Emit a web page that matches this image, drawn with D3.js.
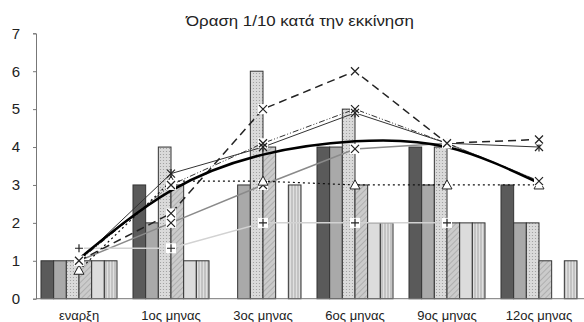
<!DOCTYPE html>
<html>
<head>
<meta charset="utf-8">
<script src="https://cdn.jsdelivr.net/npm/d3@7"></script>
<style>
  body { margin: 0; background: white; }
  text { font-family: "Liberation Sans", Arial, sans-serif; }
</style>
</head>
<body>
<div id="container"></div>
<script>
// categories and values
let categories = ["εναρξη", "1ος μηνας", "3ος μηνας", "6ος μηνας", "9ος μηνας", "12ος μηνας"];
let yTicks = [0, 1, 2, 3, 4, 5, 6, 7];

// bar series (six per month)
let barDark    = [1, 3, 0, 4, 4, 3];
let barMedium  = [1, 2, 3, 4, 3, 2];
let barDotted  = [1, 4, 6, 5, 4, 2];
let barHatched = [1, 3, 4, 3, 2, 1];
let barLight   = [1, 1, 0, 2, 2, 0];
let barStriped = [1, 1, 3, 2, 2, 1];

// line series
let lineTrend    = [1.05, 2.85, 3.8, 4.15, 4.0, 3.05];
let lineDashed   = [1.0, 2.25, 5.0, 6.0, 4.1, 4.2];
let lineStar     = [1.0, 3.3, 4.0, 4.9, 4.1, 4.0];
let lineDashDot  = [1.0, 3.0, 4.1, 5.0, 4.1, 3.1];
let lineDotted   = [0.75, 3.1, 3.1, 3.0, 3.0, 3.0];
let lineGray     = [1.0, 2.0, 3.0, 3.95, 4.1, 3.1];
let linePale     = [1.33, 1.33, 2.0, 2.0, 2.0, null];

let w = 584;
let h = 322;

let viz = d3.select("#container")
  .append("svg")
    .attr("width", w)
    .attr("height", h)
;

// fill patterns for the bars
let defs = viz.append("defs");

let dots = defs.append("pattern")
  .attr("id", "dots")
  .attr("width", 3)
  .attr("height", 3)
  .attr("patternUnits", "userSpaceOnUse")
;
dots.append("rect").attr("width", 3).attr("height", 3).attr("fill", "#dadada");
dots.append("circle").attr("cx", 1.5).attr("cy", 1.5).attr("r", 0.6).attr("fill", "#9a9a9a");

let hatch = defs.append("pattern")
  .attr("id", "hatch")
  .attr("width", 4)
  .attr("height", 4)
  .attr("patternUnits", "userSpaceOnUse")
  .attr("patternTransform", "rotate(45)")
;
hatch.append("rect").attr("width", 4).attr("height", 4).attr("fill", "#cbcbcb");
hatch.append("line").attr("x1", 0).attr("y1", 0).attr("x2", 0).attr("y2", 4)
  .attr("stroke", "#9c9c9c").attr("stroke-width", 1.2);

let stripes = defs.append("pattern")
  .attr("id", "stripes")
  .attr("width", 3)
  .attr("height", 3)
  .attr("patternUnits", "userSpaceOnUse")
;
stripes.append("rect").attr("width", 3).attr("height", 3).attr("fill", "#e0e0e0");
stripes.append("line").attr("x1", 1).attr("y1", 0).attr("x2", 1).attr("y2", 3)
  .attr("stroke", "#a6a6a6").attr("stroke-width", 1);

let barSeries = [
  {values: barDark,    fill: "#5a5a5a"},
  {values: barMedium,  fill: "#a9a9a9"},
  {values: barDotted,  fill: "url(#dots)"},
  {values: barHatched, fill: "url(#hatch)"},
  {values: barLight,   fill: "#dcdcdc"},
  {values: barStriped, fill: "url(#stripes)"}
];

// scales
let xScale = d3.scaleBand().domain(categories).range([33, 585]);
let xInner = d3.scaleBand().domain(d3.range(barSeries.length)).range([-38, 38]);
let yScale = d3.scaleLinear().domain([0, 7]).range([298.7, 33.3]);

// title
viz.append("text")
  .text("Όραση 1/10 κατά την εκκίνηση")
  .attr("x", 300)
  .attr("y", 26)
  .attr("text-anchor", "middle")
  .attr("font-size", "14px")
  .attr("textLength", 228)
  .attr("lengthAdjust", "spacingAndGlyphs")
  .attr("fill", "#222")
;

// bars
let barGroup = viz.append("g").attr("class", "bars");
barSeries.forEach(function(s, si){
  let items = s.values.map(function(v, i){ return {v: v, cat: categories[i]}; })
    .filter(function(d){ return d.v > 0; });
  barGroup.selectAll(null)
    .data(items)
    .enter()
    .append("rect")
      .attr("x", function(d){ return xScale(d.cat) + xScale.bandwidth()/2 + xInner(si); })
      .attr("y", function(d){ return yScale(d.v); })
      .attr("width", xInner.bandwidth())
      .attr("height", function(d){ return yScale(0) - yScale(d.v); })
      .attr("fill", s.fill)
      .attr("stroke", "#333")
      .attr("stroke-width", 1)
  ;
});

// axes
let yAxisGroup = viz.append("g")
  .attr("transform", "translate(36, 0)")
  .call(d3.axisLeft(yScale).tickValues(yTicks).tickFormat(d3.format("d")).tickSize(3).tickPadding(13))
;
yAxisGroup.selectAll("text").attr("font-size", "15px").attr("fill", "#222").style("font-family", "Liberation Sans, Arial, sans-serif");
yAxisGroup.selectAll("line, path").attr("stroke", "#777");

let xAxisGroup = viz.append("g")
  .attr("transform", "translate(0, " + yScale(0) + ")")
  .call(d3.axisBottom(xScale).tickSize(0).tickPadding(12))
;
xAxisGroup.select("path").attr("stroke", "#777").attr("d", "M36,0H584");
xAxisGroup.selectAll("text").attr("font-size", "13px").attr("fill", "#222").style("font-family", "Liberation Sans, Arial, sans-serif");

// line series
function cx(i){ return xScale(categories[i]) + xScale.bandwidth()/2; }

let lineSeries = [
  {values: lineGray,    stroke: "#8a8a8a", width: 1.5, dash: null,          marker: "x"},
  {values: linePale,    stroke: "#d2d2d2", width: 1.5, dash: null,          marker: "plus"},
  {values: lineDotted,  stroke: "#111",    width: 1.2, dash: "2,3",         marker: "tri"},
  {values: lineDashDot, stroke: "#333",    width: 1,   dash: "6,2,1,2,1,2", marker: "x"},
  {values: lineStar,    stroke: "#333",    width: 1,   dash: null,          marker: "star"},
  {values: lineDashed,  stroke: "#222",    width: 1.5, dash: "8,5",         marker: "x"}
];

let lineGen = d3.line()
  .defined(function(d){ return d != null; })
  .x(function(d, i){ return cx(i); })
  .y(function(d){ return yScale(d); })
;

let lineGroup = viz.append("g").attr("class", "lines");
lineSeries.forEach(function(s){
  lineGroup.append("path")
    .datum(s.values)
    .attr("d", lineGen)
    .attr("fill", "none")
    .attr("stroke", s.stroke)
    .attr("stroke-width", s.width)
    .attr("stroke-dasharray", s.dash)
  ;
});

// smooth thick trend curve
lineGroup.append("path")
  .datum(lineTrend)
  .attr("d", lineGen.curve(d3.curveNatural))
  .attr("fill", "none")
  .attr("stroke", "#000")
  .attr("stroke-width", 2.5)
;

// markers
let markerGroup = viz.append("g").attr("class", "markers");
lineSeries.forEach(function(s){
  let m = markerGroup.selectAll(null)
    .data(s.values.map(function(v, i){ return {v: v, i: i}; }).filter(function(d){ return d.v != null; }))
    .enter()
    .append("g")
      .attr("transform", function(d){ return "translate(" + cx(d.i) + "," + yScale(d.v) + ")"; })
  ;
  if(s.marker == "x" || s.marker == "plus"){
    m.append("rect").attr("x", -5).attr("y", -5).attr("width", 10).attr("height", 10).attr("fill", "white");
  }
  if(s.marker == "x" || s.marker == "star"){
    m.append("path").attr("d", "M-4,-4L4,4M-4,4L4,-4").attr("stroke", "#222").attr("stroke-width", 1.2);
  }
  if(s.marker == "star"){
    m.append("path").attr("d", "M0,-4.5V4.5").attr("stroke", "#222").attr("stroke-width", 1.2);
  }
  if(s.marker == "plus"){
    m.append("path").attr("d", "M-4,0H4M0,-4V4").attr("stroke", "#222").attr("stroke-width", 1.2);
  }
  if(s.marker == "tri"){
    m.append("path").attr("d", "M0,-5L5,4H-5Z").attr("fill", "white").attr("stroke", "#222").attr("stroke-width", 1);
  }
});
</script>
</body>
</html>
